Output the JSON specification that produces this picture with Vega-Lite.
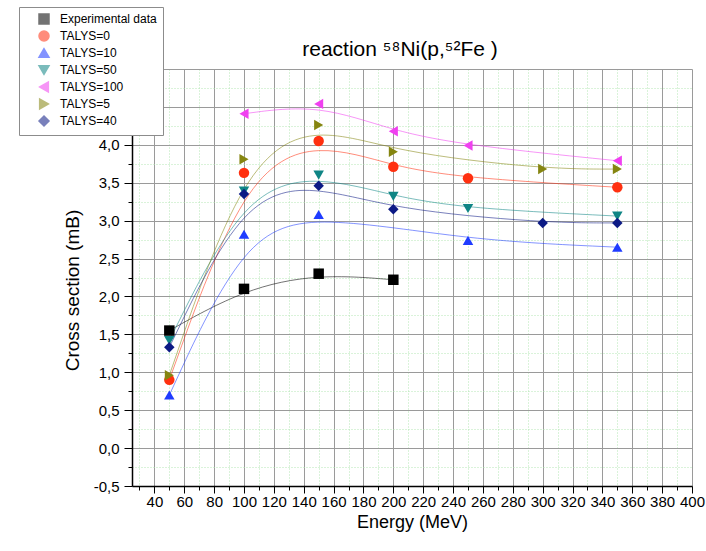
{
  "$schema": "https://vega.github.io/schema/vega-lite/v6.json",
  "width": 560,
  "height": 417,
  "autosize": {"type": "none"},
  "padding": {"left": 132, "top": 69, "right": 14, "bottom": 65},
  "background": "white",
  "title": {"text": "reaction ⁵⁸Ni(p,⁵²Fe )", "font": "Liberation Sans", "fontSize": 21, "fontWeight": "normal", "color": "black", "anchor": "middle", "frame": "group", "dx": -12, "dy": 20, "baseline": "alphabetic", "offset": -50},
  "config": {"font": "Liberation Sans", "view": {"stroke": null}},
  "data": {"values": [
    {"series": "Experimental data", "energy": 50, "cs": 1.55},
    {"series": "Experimental data", "energy": 100, "cs": 2.10},
    {"series": "Experimental data", "energy": 150, "cs": 2.30},
    {"series": "Experimental data", "energy": 200, "cs": 2.22},
    {"series": "TALYS=0", "energy": 50, "cs": 0.90},
    {"series": "TALYS=0", "energy": 100, "cs": 3.63},
    {"series": "TALYS=0", "energy": 150, "cs": 4.05},
    {"series": "TALYS=0", "energy": 200, "cs": 3.71},
    {"series": "TALYS=0", "energy": 250, "cs": 3.56},
    {"series": "TALYS=0", "energy": 350, "cs": 3.44},
    {"series": "TALYS=10", "energy": 50, "cs": 0.70},
    {"series": "TALYS=10", "energy": 100, "cs": 2.82},
    {"series": "TALYS=10", "energy": 150, "cs": 3.08},
    {"series": "TALYS=10", "energy": 250, "cs": 2.74},
    {"series": "TALYS=10", "energy": 350, "cs": 2.65},
    {"series": "TALYS=50", "energy": 50, "cs": 1.42},
    {"series": "TALYS=50", "energy": 100, "cs": 3.39},
    {"series": "TALYS=50", "energy": 150, "cs": 3.60},
    {"series": "TALYS=50", "energy": 200, "cs": 3.32},
    {"series": "TALYS=50", "energy": 250, "cs": 3.16},
    {"series": "TALYS=50", "energy": 350, "cs": 3.06},
    {"series": "TALYS=100", "energy": 100, "cs": 4.41},
    {"series": "TALYS=100", "energy": 150, "cs": 4.54},
    {"series": "TALYS=100", "energy": 200, "cs": 4.18},
    {"series": "TALYS=100", "energy": 250, "cs": 3.99},
    {"series": "TALYS=100", "energy": 350, "cs": 3.79},
    {"series": "TALYS=5", "energy": 50, "cs": 0.96},
    {"series": "TALYS=5", "energy": 100, "cs": 3.81},
    {"series": "TALYS=5", "energy": 150, "cs": 4.26},
    {"series": "TALYS=5", "energy": 200, "cs": 3.91},
    {"series": "TALYS=5", "energy": 300, "cs": 3.68},
    {"series": "TALYS=5", "energy": 350, "cs": 3.68},
    {"series": "TALYS=40", "energy": 50, "cs": 1.33},
    {"series": "TALYS=40", "energy": 100, "cs": 3.35},
    {"series": "TALYS=40", "energy": 150, "cs": 3.46},
    {"series": "TALYS=40", "energy": 200, "cs": 3.15},
    {"series": "TALYS=40", "energy": 300, "cs": 2.97},
    {"series": "TALYS=40", "energy": 350, "cs": 2.97}
  ]},
  "layer": [
    {
      "mark": {"type": "line", "interpolate": "basis", "strokeWidth": 1, "opacity": 0.55},
      "encoding": {
        "x": {"field": "energy", "type": "quantitative", "scale": {"domain": [25, 400], "nice": false, "zero": false},
          "axis": {"orient": "bottom", "values": [30,50,70,90,110,130,150,170,190,210,230,250,270,290,310,330,350,370,390], "grid": true, "gridColor": "#b4e6b4", "gridDash": [1, 2], "gridWidth": 1, "labels": false, "domain": false, "ticks": true, "tickSize": 4, "tickColor": "black", "tickWidth": 1, "title": null}},
        "y": {"field": "cs", "type": "quantitative", "scale": {"domain": [-0.5, 5], "nice": false, "zero": false},
          "axis": {"orient": "left", "values": [-0.25,0.25,0.75,1.25,1.75,2.25,2.75,3.25,3.75,4.25,4.75], "grid": true, "gridColor": "#b4e6b4", "gridDash": [1, 2], "gridWidth": 1, "labels": false, "domain": false, "ticks": true, "tickSize": 4, "tickColor": "black", "tickWidth": 1, "title": null}},
        "color": {"field": "series", "type": "nominal",
          "scale": {"domain": ["Experimental data", "TALYS=0", "TALYS=10", "TALYS=50", "TALYS=100", "TALYS=5", "TALYS=40"],
                    "range": ["#000000", "#ff3010", "#1f3cff", "#0f8585", "#f040f0", "#858510", "#0c1a85"]}}
      }
    },
    {
      "mark": {"type": "point", "filled": true, "size": 110, "opacity": 1},
      "encoding": {
        "x": {"field": "energy", "type": "quantitative",
          "axis": {"orient": "bottom", "values": [40,60,80,100,120,140,160,180,200,220,240,260,280,300,320,340,360,380,400], "grid": true, "gridColor": "#9a9a9a", "gridWidth": 1, "domain": true, "domainColor": "black", "domainWidth": 1.5, "ticks": true, "tickColor": "black", "tickSize": 7, "tickWidth": 1, "labelFont": "Liberation Sans", "labelFontSize": 15, "labelColor": "black", "labelOverlap": false, "labelFlush": false, "labelPadding": 1, "title": "Energy (MeV)", "titleFont": "Liberation Sans", "titleFontSize": 18, "titleFontWeight": "normal", "titleColor": "black", "titlePadding": 4}},
        "y": {"field": "cs", "type": "quantitative",
          "axis": {"orient": "left", "values": [-0.5,0,0.5,1,1.5,2,2.5,3,3.5,4,4.5,5], "labelExpr": "datum.value > 4.1 ? '' : (datum.value < 0 ? '-' : '') + replace(format(abs(datum.value), '.1f'), '.', ',')", "grid": true, "gridColor": "#9a9a9a", "gridWidth": 1, "domain": true, "domainColor": "black", "domainWidth": 1.5, "ticks": true, "tickColor": "black", "tickSize": 8, "tickWidth": 1, "labelFont": "Liberation Sans", "labelFontSize": 15, "labelColor": "black", "labelPadding": 5, "labelFlush": false, "labelOverlap": false, "title": "Cross section (mB)", "titleFont": "Liberation Sans", "titleFontSize": 19, "titleFontWeight": "normal", "titleColor": "black", "titleAngle": -90, "titleX": -60, "titleY": 221, "titleAlign": "center", "titleBaseline": "middle"}},
        "color": {"field": "series", "type": "nominal",
          "legend": {
            "title": null, "orient": "none", "legendX": -113, "legendY": -62, "direction": "vertical",
            "fillColor": "white", "strokeColor": "#8c8c8c", "padding": 6, "cornerRadius": 0,
            "labelFont": "Liberation Sans", "labelFontSize": 12, "labelColor": "black",
            "symbolSize": 100, "symbolOffset": 13, "labelOffset": 10, "rowPadding": 1, "symbolOpacity": 1
          }},
        "shape": {"field": "series", "type": "nominal",
          "scale": {"domain": ["Experimental data", "TALYS=0", "TALYS=10", "TALYS=50", "TALYS=100", "TALYS=5", "TALYS=40"],
                    "range": ["square", "circle", "triangle-up", "triangle-down", "triangle-left", "triangle-right", "diamond"]}}
      }
    }
  ],
  "resolve": {"axis": {"x": "independent", "y": "independent"}}
}
